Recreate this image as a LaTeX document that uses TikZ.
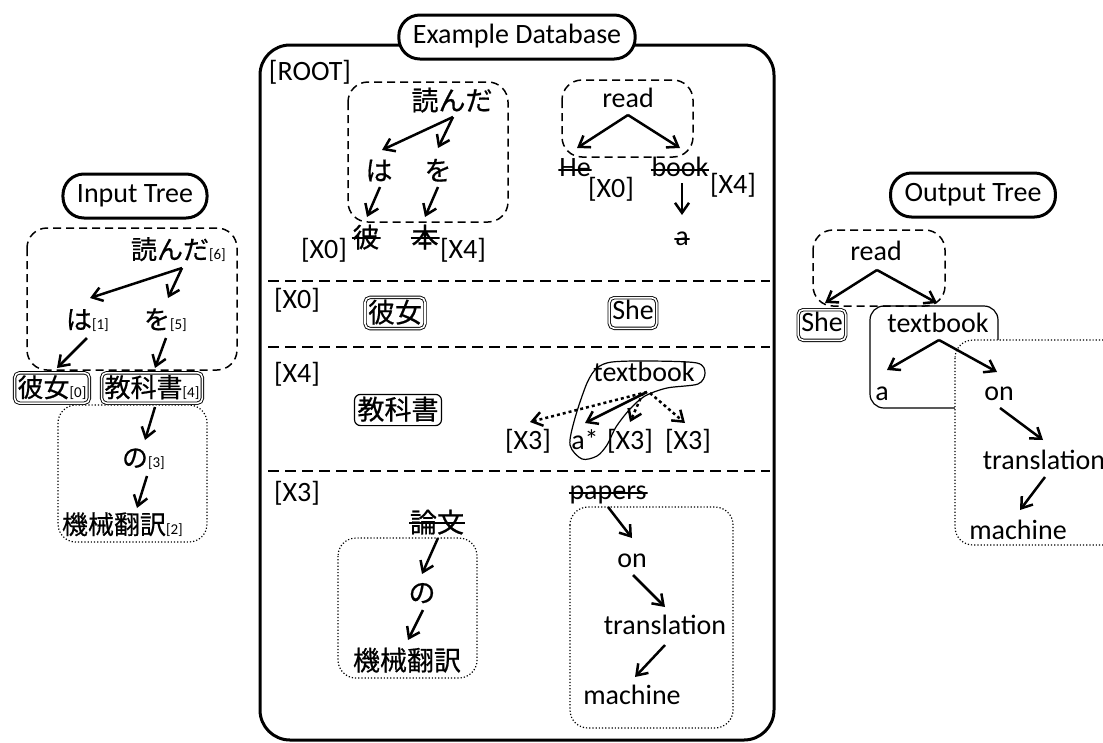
\documentclass[tikz,border=0pt]{standalone}
\usepackage{fontspec}
\setmainfont{Carlito}
\newfontfamily\jpfont[FakeBold=0.6]{Noto Sans CJK JP}
\usetikzlibrary{positioning,calc,arrows.meta}

\newcommand\txtsize{\fontsize{28}{32}\selectfont}
\newcommand\jpsize{\fontsize{27}{32}\selectfont}
\newcommand\idx[1]{{\normalfont\fontsize{15}{18}\selectfont#1}}

\begin{document}
\begin{tikzpicture}[x=1pt, y=-1pt,
    word/.style={font=\txtsize, inner sep=1pt, text height=19pt, text depth=5.6pt},
    ja/.style={font=\jpsize\jpfont, inner sep=1pt, text height=22pt, text depth=3.2pt},
    jain/.style={ja, font=\fontsize{26}{30}\selectfont\jpfont, text height=21.3pt, text depth=3.1pt},
    title/.style={word, draw, line width=3pt, fill=white, rounded corners=21pt, minimum height=44pt, inner xsep=14pt},
    frame/.style={draw, line width=3pt, rounded corners=30pt},
    dbl/.style={draw, double, double distance=1.6pt, line width=0.9pt, rounded corners=5pt, inner sep=3pt},
    single/.style={draw, line width=1.2pt, rounded corners=6pt, inner sep=3pt},
    struck/.style={path picture={\draw[line width=2pt] (path picture bounding box.west) -- (path picture bounding box.east);}},
    edge/.style={draw, line width=2.5pt, -{Straight Barb[length=10pt,width=14pt]}},
    dotedge/.style={edge, dash pattern=on 3pt off 3pt},
    dashbox/.style={draw, line width=1.5pt, dash pattern=on 8pt off 5pt, rounded corners=20pt},
    dotbox/.style={draw, line width=1.2pt, dotted, rounded corners=18pt},
    sep/.style={draw, line width=1.5pt, dash pattern=on 11pt off 6pt}]

    \useasboundingbox (0,0) rectangle (1103,742);

    % Input tree
    \node [title] (in-title) at (135,196) {Input Tree};
    \draw [dashbox] (27,228) rectangle (237,370);
    \draw [dotbox] (58,405) rectangle (207,542);
    \node [jain] (in-yonda) at (170,250) {読んだ\rlap{\idx{[6]}}};
    \node [jain] (in-ha) at (79,320) {は\rlap{\idx{[1]}}};
    \node [jain] (in-wo) at (157,320) {を\rlap{\idx{[5]}}};
    \node [jain, dbl] (in-kanojo) at (52,388) {彼女\idx{[0]}};
    \node [jain, dbl] (in-kyoukasho) at (152,388) {教科書\idx{[4]}};
    \node [jain] (in-no) at (135,458) {の\rlap{\idx{[3]}}};
    \node [jain] (in-kikai) at (114,525) {機械翻訳\rlap{\idx{[2]}}};

    \path [edge] ($(in-yonda)+(12,18)$) -- ($(in-ha)+(11,-22)$);
    \path [edge] ($(in-yonda)+(12,18)$) -- ($(in-wo)+(11,-22)$);
    \path [edge] ($(in-ha)+(8,18)$) -- ($(in-kanojo)+(5,-20)$);
    \path [edge] ($(in-wo)+(9,18)$) -- ($(in-kyoukasho)+(3,-20)$);
    \path [edge] ($(in-kyoukasho)+(3,19)$) -- ($(in-no)+(10,-18)$);
    \path [edge] ($(in-no)+(12,18)$) -- ($(in-kikai)+(23,-17)$);

    % Example database
    \draw [frame] (260,45) rectangle (774,740);
    \node [title] (db-title) at (517,37) {Example Database};
    \path [sep] (268,281) -- (770,281);
    \path [sep] (268,347) -- (770,347);
    \path [sep] (268,471) -- (770,471);

    % [ROOT]
    \node [word] (root) at (310,74) {[ROOT]};
    \draw [dashbox] (348,82) rectangle (508,222);
    \node [ja] (r-yonda) at (452,101) {読んだ};
    \node [ja] (r-ha) at (379,171) {は};
    \node [ja] (r-wo) at (438,171) {を};
    \node [ja, struck] (r-kare) at (366,238) {彼};
    \node [ja, struck] (r-hon) at (425,238) {本};
    \node [word] (r-x0) at (324,252) {[X0]};
    \node [word] (r-x4) at (463,252) {[X4]};
    \path [edge] ($(r-yonda)+(1,16)$) -- ($(r-ha)+(3,-21)$);
    \path [edge] ($(r-yonda)+(1,16)$) -- ($(r-wo)+(0,-23)$);
    \path [edge] ($(r-ha)+(1,16)$) -- ($(r-kare)+(1,-21)$);
    \path [edge] ($(r-wo)+(0,16)$) -- ($(r-hon)+(0,-21)$);

    \draw [dashbox] (562,80) rectangle (693,157);
    \node [word] (r-read) at (628,101) {read};
    \node [word, struck] (r-he) at (575,170) {He};
    \node [word, struck] (r-book) at (680,170) {book};
    \node [word] (r-x0b) at (611,191) {[X0]};
    \node [word] (r-x4b) at (733,187) {[X4]};
    \node [word, struck] (r-a) at (682,239) {a};
    \path [edge] ($(r-read)+(0,14)$) -- ($(r-he)+(2,-22)$);
    \path [edge] ($(r-read)+(0,14)$) -- ($(r-book)+(0,-22)$);
    \path [edge] ($(r-book)+(2,13)$) -- ($(r-a)+(0,-24)$);

    % [X0]
    \node [word] (x0) at (297,302) {[X0]};
    \node [ja, dbl] (x0-kanojo) at (395,313) {彼女};
    \node [word, dbl] (x0-she) at (633,313) {She};

    % [X4]
    \node [word] (x4) at (297,376) {[X4]};
    \node [ja, single] (x4-kyoukasho) at (398,410) {教科書};
    \node [word] (x4-textbook) at (644,375) {textbook};
    \node [word] (x4-x3a) at (528,443) {[X3]};
    \node [word] (x4-astar) at (585,443) {a*};
    \node [word] (x4-x3b) at (630,443) {[X3]};
    \node [word] (x4-x3c) at (688,443) {[X3]};
    \draw [line width=1.2pt] plot [smooth cycle, tension=0.5] coordinates {
        (570,445) (575,418) (587,383) (597,368) (612,362) (650,361) (697,363)
        (705,373) (698,384) (667,388) (645,396) (630,409) (616,427) (607,445)
        (597,456) (582,459)};
    \path [dotedge] ($(x4-textbook)+(3,17)$) -- ($(x4-x3a)+(2,-21)$);
    \path [edge] ($(x4-textbook)+(3,17)$) -- ($(x4-astar)+(0,-20)$);
    \path [dotedge] ($(x4-textbook)+(-1,18)$) -- ($(x4-x3b)+(0,-21)$);
    \path [dotedge] ($(x4-textbook)+(6,18)$) -- ($(x4-x3c)+(-3,-20)$);

    % [X3]
    \node [word] (x3) at (297,495) {[X3]};
    \node [ja, struck] (x3-ronbun) at (437,523) {論文};
    \draw [dotbox] (338,538) rectangle (477,678);
    \node [ja] (x3-no) at (422,593) {の};
    \node [ja] (x3-kikai) at (407,661) {機械翻訳};
    \path [edge] ($(x3-ronbun)+(1,15)$) -- ($(x3-no)+(0,-19)$);
    \path [edge] ($(x3-no)+(1,17)$) -- ($(x3-kikai)+(1,-21)$);

    \node [word, struck] (x3-papers) at (608,493) {papers};
    \draw [dotbox] (570,507) rectangle (733,728);
    \node [word] (x3-on) at (632,561) {on};
    \node [word] (x3-translation) at (665,628) {translation};
    \node [word] (x3-machine) at (632,698) {machine};
    \path [edge] ($(x3-papers)+(0,14)$) -- ($(x3-on)+(0,-23)$);
    \path [edge] ($(x3-on)+(1,14)$) -- ($(x3-translation)+(0,-21)$);
    \path [edge] ($(x3-translation)+(0,17)$) -- ($(x3-machine)+(3,-21)$);

    % Output tree
    \node [title] (out-title) at (973,195) {Output Tree};
    \draw [dashbox] (813,230) rectangle (945,306);
    \node [word] (out-read) at (876,254) {read};
    \node [word, dbl] (out-she) at (822,325) {She};
    \draw [line width=1.2pt, rounded corners=14pt] (870,306) rectangle (998,408);
    \draw [dotbox, fill=white] (955,340) rectangle (1120,545);
    \node [word] (out-textbook) at (938,326) {textbook};
    \node [word] (out-a) at (882,394) {a};
    \node [word] (out-on) at (999,394) {on};
    \node [word] (out-translation) at (1044,463) {translation};
    \node [word] (out-machine) at (1018,533) {machine};
    \path [edge] ($(out-read)+(1,16)$) -- ($(out-she)+(3,-22)$);
    \path [edge] ($(out-read)+(1,16)$) -- ($(out-textbook)+(-1,-23)$);
    \path [edge] ($(out-textbook)+(1,14)$) -- ($(out-a)+(5,-24)$);
    \path [edge] ($(out-textbook)+(1,14)$) -- ($(out-on)+(-2,-22)$);
    \path [edge] ($(out-on)+(1,14)$) -- ($(out-translation)+(-1,-23)$);
    \path [edge] ($(out-translation)+(1,14)$) -- ($(out-machine)+(2,-23)$);

\end{tikzpicture}
\end{document}
